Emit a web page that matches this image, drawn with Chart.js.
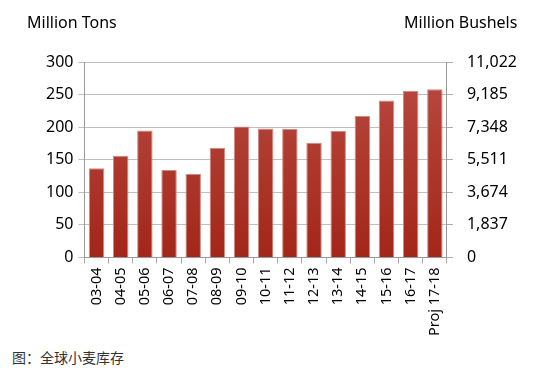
<!DOCTYPE html>
<html>
<head>
<meta charset="utf-8">
<script src="https://cdn.jsdelivr.net/npm/chart.js@4/dist/chart.umd.min.js"></script>
<style>
  body { margin: 0; background: #fff; width: 539px; height: 375px; position: relative; overflow: hidden; }
  #wrap { position: absolute; left: 0; top: 0; width: 539px; height: 340px; }
  .unit { position: absolute; top: 11px; font: 16px "Noto Sans", sans-serif; color: #000; }
  #caption { position: absolute; left: 12px; top: 347px; font: 14px "Noto Sans CJK SC", sans-serif; color: #333; }
</style>
</head>
<body>
<div id="wrap"><canvas id="stocks"></canvas></div>
<div class="unit" style="left:27px">Million Tons</div>
<div class="unit" style="left:404px">Million Bushels</div>
<div id="caption">图：全球小麦库存</div>
<script>
// marketing years
var years = ["03-04", "04-05", "05-06", "06-07", "07-08", "08-09", "09-10", "10-11",
             "11-12", "12-13", "13-14", "14-15", "15-16", "16-17", "Proj 17-18"];
// world wheat ending stocks, million tons
var stocks = [137, 156, 195, 134, 128, 168, 201, 198, 197, 176, 194, 217, 241, 256, 258];
// axis ticks
var tonTicks = [0, 50, 100, 150, 200, 250, 300];
var bushelTicks = [0, 1837, 3674, 5511, 7348, 9185, 11022];

var tickFont = { family: "Noto Sans", size: 16 };

function barFill(context) {
  var chart = context.chart;
  var area = chart.chartArea;
  if (!area) return "#a8302a";
  var g = chart.ctx.createLinearGradient(0, area.top, 0, area.bottom);
  g.addColorStop(0, "#b94b42");
  g.addColorStop(1, "#a32619");
  return g;
}

var ctx = document.getElementById("stocks").getContext("2d");
var stockChart = new Chart(ctx, {
  type: "bar",
  data: {
    labels: years,
    datasets: [{
      data: stocks,
      backgroundColor: barFill,
      borderColor: "#cf8a80",
      borderWidth: 1,
      barPercentage: 0.64,
      categoryPercentage: 1,
      yAxisID: "y"
    }]
  },
  options: {
    responsive: true,
    maintainAspectRatio: false,
    animation: false,
    layout: { padding: { top: 62, left: 41, right: 8, bottom: 0 } },
    plugins: { legend: { display: false }, tooltip: { enabled: false } },
    scales: {
      x: {
        grid: { drawOnChartArea: false, color: "#aaa", tickLength: 6, offset: true },
        border: { color: "#999" },
        ticks: { color: "#000", font: { family: "Noto Sans", size: 14.5 }, minRotation: 90, maxRotation: 90, autoSkip: false, padding: 4 }
      },
      y: {
        position: "left",
        min: 0, max: 300,
        afterBuildTicks: function (axis) { axis.ticks = tonTicks.map(function (v) { return { value: v }; }); },
        grid: { color: "#bfbfbf", tickLength: 6 },
        border: { color: "#999" },
        ticks: { color: "#000", font: tickFont, padding: 5 }
      },
      y2: {
        position: "right",
        min: 0, max: 11022,
        afterBuildTicks: function (axis) { axis.ticks = bushelTicks.map(function (v) { return { value: v }; }); },
        grid: { drawOnChartArea: false, color: "#aaa", tickLength: 6 },
        border: { color: "#999" },
        ticks: {
          color: "#000", font: tickFont, padding: 14,
          callback: function (v) { return v.toLocaleString("en-US"); }
        }
      }
    }
  }
});
</script>
</body>
</html>
